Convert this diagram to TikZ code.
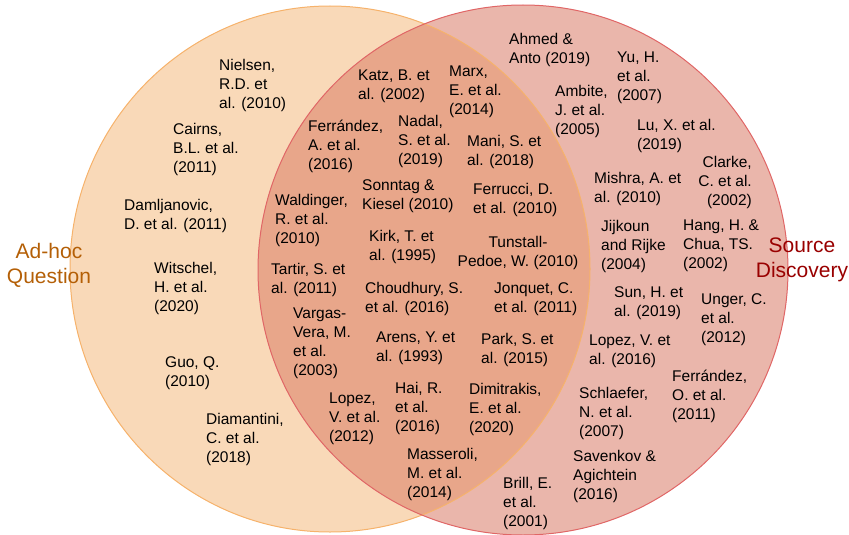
\documentclass[tikz,border=0pt]{standalone}
\usepackage{fontspec}
\setmainfont{Liberation Sans}
\definecolor{peach}{HTML}{F9D9B8}
\definecolor{pinkfill}{HTML}{EAB6AB}
\definecolor{overlap}{HTML}{E8A68A}
\definecolor{orangeedge}{HTML}{F6B26B}
\definecolor{rededge}{HTML}{E06666}
\definecolor{adhoc}{HTML}{B45F06}
\definecolor{srcdisc}{HTML}{990000}
\tikzset{
  ref/.style={anchor=north west, inner sep=0pt, align=left, font=\fontsize{15.5}{19}\selectfont, text=black},
  refr/.style={ref, anchor=north east, align=right},
  refc/.style={ref, anchor=north, align=center},
  setlabel/.style={anchor=north, inner sep=0pt, align=center, font=\fontsize{21}{25}\selectfont},
}
\begin{document}
\begin{tikzpicture}[x=1pt,y=-1pt]
\useasboundingbox (0,0) rectangle (849,535);
% fills
\fill[peach] (330,269) ellipse [x radius=260, y radius=263];
\fill[pinkfill] (523,270) circle [radius=265];
\begin{scope}
  \clip (330,269) ellipse [x radius=260, y radius=263];
  \fill[overlap] (523,270) circle [radius=265];
\end{scope}
% borders
\draw[orangeedge, line width=1pt] (330,269) ellipse [x radius=260, y radius=263];
\draw[rededge, line width=1pt] (523,270) circle [radius=265];
% set labels
\node[setlabel, text=adhoc] (adhoc) at (49,243) {Ad-hoc\\Question};
\node[setlabel, text=srcdisc] (source) at (802,238) {Source\\Discovery};
% left only
\node[ref] (nielsen) at (219,59) {Nielsen,\\R.D. et\\al. (2010)};
\node[ref] (cairns) at (173,123) {Cairns,\\B.L. et al.\\(2011)};
\node[ref] (damljanovic) at (124,199) {Damljanovic,\\D. et al. (2011)};
\node[ref] (witschel) at (154,262) {Witschel,\\H. et al.\\(2020)};
\node[ref] (guo) at (165,356) {Guo, Q.\\(2010)};
\node[ref] (diamantini) at (206,413) {Diamantini,\\C. et al.\\(2018)};
% overlap
\node[ref] (katz) at (358,70) {Katz, B. et\\al. (2002)};
\node[ref] (marx) at (449,66) {Marx,\\E. et al.\\(2014)};
\node[ref] (ferrandezA) at (308,120) {Ferrández,\\A. et al.\\(2016)};
\node[ref] (nadal) at (398,115) {Nadal,\\S. et al.\\(2019)};
\node[ref] (mani) at (467,135) {Mani, S. et\\al. (2018)};
\node[ref] (sonntag) at (362,179) {Sonntag \&\\Kiesel (2010)};
\node[ref] (ferrucci) at (473,183) {Ferrucci, D.\\et al. (2010)};
\node[ref] (waldinger) at (275,194) {Waldinger,\\R. et al.\\(2010)};
\node[ref] (kirk) at (369,230) {Kirk, T. et\\al. (1995)};
\node[refc] (tunstall) at (518,236) {Tunstall-\\Pedoe, W. (2010)};
\node[ref] (tartir) at (271,263) {Tartir, S. et\\al. (2011)};
\node[ref] (choudhury) at (365,282) {Choudhury, S.\\et al. (2016)};
\node[ref] (jonquet) at (494,282) {Jonquet, C.\\et al. (2011)};
\node[ref] (vargas) at (293,308) {Vargas-\\Vera, M.\\et al.\\(2003)};
\node[ref] (arens) at (376,332) {Arens, Y. et\\al. (1993)};
\node[ref] (park) at (481,333) {Park, S. et\\al. (2015)};
\node[ref] (lopezV12) at (329,393) {Lopez,\\V. et al.\\(2012)};
\node[ref] (hai) at (395,382) {Hai, R.\\et al.\\(2016)};
\node[ref] (dimitrakis) at (469,383) {Dimitrakis,\\E. et al.\\(2020)};
\node[ref] (masseroli) at (407,448) {Masseroli,\\M. et al.\\(2014)};
% right only
\node[ref] (ahmed) at (509,33) {Ahmed \&\\Anto (2019)};
\node[ref] (yu) at (617,52) {Yu, H.\\et al.\\(2007)};
\node[ref] (ambite) at (555,85) {Ambite,\\J. et al.\\(2005)};
\node[ref] (lu) at (637,119) {Lu, X. et al.\\(2019)};
\node[refr] (clarke) at (752,156) {Clarke,\\C. et al.\\(2002)};
\node[ref] (mishra) at (594,172) {Mishra, A. et\\al. (2010)};
\node[ref] (jijkoun) at (601,220) {Jijkoun\\and Rijke\\(2004)};
\node[ref] (hang) at (683,220) {Hang, H. \&\\Chua, TS.\\(2002)};
\node[ref] (sun) at (614,286) {Sun, H. et\\al. (2019)};
\node[ref] (unger) at (701,293) {Unger, C.\\et al.\\(2012)};
\node[ref] (lopezV16) at (589,335) {Lopez, V. et\\al. (2016)};
\node[ref] (ferrandezO) at (672,370) {Ferrández,\\O. et al.\\(2011)};
\node[ref] (schlaefer) at (579,387) {Schlaefer,\\N. et al.\\(2007)};
\node[ref] (savenkov) at (573,450) {Savenkov \&\\Agichtein\\(2016)};
\node[ref] (brill) at (503,477) {Brill, E.\\et al.\\(2001)};
\end{tikzpicture}
\end{document}
